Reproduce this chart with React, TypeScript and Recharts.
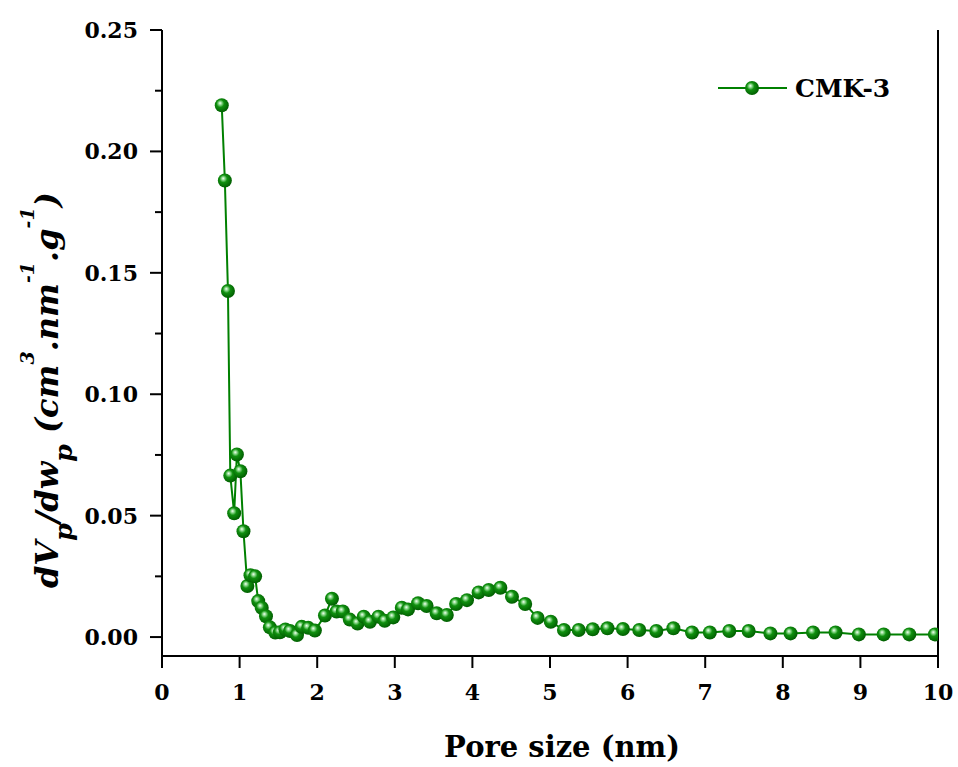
import React from 'react';
import { LineChart, Line, XAxis, YAxis } from 'recharts';

const poreSize = [
  0.77, 0.81, 0.85, 0.88, 0.93, 0.965, 1.01, 1.05, 1.10, 1.14, 1.20, 1.24, 1.285, 1.34, 1.39, 1.46,
  1.52, 1.59, 1.65, 1.74, 1.80, 1.885, 1.97, 2.10, 2.19, 2.25, 2.33, 2.42, 2.52, 2.60, 2.68, 2.79,
  2.87, 2.98, 3.09, 3.17, 3.30, 3.41, 3.54, 3.67, 3.79, 3.93, 4.08, 4.21, 4.36, 4.51, 4.68, 4.84,
  5.01, 5.18, 5.37, 5.55, 5.74, 5.94, 6.15, 6.37, 6.59, 6.83, 7.06, 7.31, 7.56, 7.84, 8.10, 8.39,
  8.68, 8.98, 9.30, 9.63, 9.96,
];
const cmk3 = [
  0.219, 0.188, 0.1425, 0.0665, 0.051, 0.0752, 0.0683, 0.0436, 0.021, 0.0255, 0.025, 0.0148, 0.0121, 0.0086, 0.004, 0.0019,
  0.002, 0.0031, 0.0025, 0.0008, 0.0042, 0.0038, 0.0027, 0.0089, 0.0158, 0.0105, 0.0105, 0.0072, 0.0056, 0.0084, 0.0063, 0.0084,
  0.0067, 0.0081, 0.0121, 0.0114, 0.0139, 0.0128, 0.0098, 0.0091, 0.0136, 0.0152, 0.0184, 0.0194, 0.0203, 0.0166, 0.0136, 0.0079,
  0.0063, 0.0029, 0.0029, 0.0032, 0.0036, 0.0033, 0.0029, 0.0025, 0.0036, 0.0019, 0.0019, 0.0025, 0.0025, 0.0015, 0.0015, 0.0019,
  0.0019, 0.0011, 0.0011, 0.0011, 0.0011,
];
const xTicks = [0, 1, 2, 3, 4, 5, 6, 7, 8, 9, 10];
const yMajorTicks = [0, 0.05, 0.1, 0.15, 0.2, 0.25];
const yMinorTicks = [0.025, 0.075, 0.125, 0.175, 0.225];
const seriesName = 'CMK-3';
const xTitle = 'Pore size (nm)';

const data = poreSize.map((x, i) => ({ x, y: cmk3[i] }));

const FONT = 'DejaVu Serif';
const GREEN = '#008000';

const YTick = (props: any) => {
  const { x, y, payload } = props;
  const v = payload.value;
  const major = yMajorTicks.some((t) => Math.abs(t - v) < 1e-9);
  return (
    <g>
      <line x1={x - (major ? 12 : 7)} x2={x} y1={y} y2={y} stroke="#000" strokeWidth={2} />
      {major && (
        <text x={x - 24} y={y} dy={8} textAnchor="end" fontFamily={FONT} fontWeight="bold" fontSize={22} fill="#000">
          {v.toFixed(2)}
        </text>
      )}
    </g>
  );
};

const XTick = (props: any) => {
  const { x, y, payload } = props;
  return (
    <g>
      <line x1={x} x2={x} y1={y} y2={y + 12} stroke="#000" strokeWidth={2} />
      <text x={x} y={y + 44} textAnchor="middle" fontFamily={FONT} fontWeight="bold" fontSize={22} fill="#000">
        {payload.value}
      </text>
    </g>
  );
};

const Ball = (props: any) => {
  const { cx, cy, index } = props;
  if (cx == null || cy == null) return null;
  return <circle key={`b${index}`} cx={cx} cy={cy} r={7} fill="url(#ballGrad)" />;
};

const YLabel = () => (
  <text
    transform="translate(58, 588) rotate(-90)"
    fontFamily={FONT}
    fontWeight="bold"
    fontStyle="italic"
    fontSize={32}
    fill="#000"
  >
    <tspan>dV</tspan>
    <tspan dy={14} fontSize={25}>p</tspan>
    <tspan dy={-14}>/dw</tspan>
    <tspan dy={14} fontSize={25}>p</tspan>
    <tspan dy={-14}> (cm</tspan>
    <tspan dy={-24} fontSize={19}>3</tspan>
    <tspan dy={24}>.nm</tspan>
    <tspan dy={-24} fontSize={19}>-1</tspan>
    <tspan dy={24}>.g</tspan>
    <tspan dy={-24} fontSize={19}>-1</tspan>
    <tspan dy={24}>)</tspan>
  </text>
);

const XLabel = () => (
  <text x={562} y={757} textAnchor="middle" fontFamily={FONT} fontWeight="bold" fontSize={29} fill="#000">
    {xTitle}
  </text>
);

const BallGradient = ({ id }: { id: string }) => (
  <radialGradient id={id} cx="0.42" cy="0.42" r="0.6" fx="0.38" fy="0.34">
    <stop offset="0" stopColor="#f4fff4" />
    <stop offset="0.2" stopColor="#8ad88a" />
    <stop offset="0.45" stopColor="#10900f" />
    <stop offset="1" stopColor="#005c00" />
  </radialGradient>
);

const LegendBox = () => (
  <svg width={200} height={40} style={{ position: 'absolute', left: 715, top: 70, overflow: 'visible' }}>
    <defs>
      <BallGradient id="ballGradL" />
    </defs>
    <line x1={3} x2={72} y1={18} y2={18} stroke={GREEN} strokeWidth={2} />
    <circle cx={37} cy={18} r={7} fill="url(#ballGradL)" />
    <text x={80} y={27} fontFamily={FONT} fontWeight="bold" fontSize={25} fill="#000">
      {seriesName}
    </text>
  </svg>
);

export default function App() {
  return (
    <div style={{ position: 'absolute', left: 0, top: 0, width: 958, height: 767, background: '#fff' }}>
      <LineChart width={958} height={767} data={data} margin={{ top: 30, right: 0, left: 0, bottom: 0 }}>
        <defs>
          <BallGradient id="ballGrad" />
        </defs>
        <XAxis
          dataKey="x"
          type="number"
          domain={[0, 10]}
          ticks={xTicks}
          allowDataOverflow
          height={111}
          axisLine={{ stroke: '#000', strokeWidth: 2 }}
          tickLine={false}
          tickSize={0}
          tickMargin={0}
          tick={<XTick />}
          interval={0}
          label={<XLabel />}
        />
        <XAxis
          xAxisId="top"
          orientation="top"
          dataKey="x"
          type="number"
          domain={[0, 10]}
          height={0}
          tick={false}
          tickLine={false}
          axisLine={{ stroke: '#000', strokeWidth: 2 }}
        />
        <YAxis
          type="number"
          domain={[-0.0078, 0.25]}
          ticks={[...yMajorTicks, ...yMinorTicks]}
          allowDataOverflow
          width={162}
          axisLine={{ stroke: '#000', strokeWidth: 2 }}
          tickLine={false}
          tickSize={0}
          tickMargin={0}
          tick={<YTick />}
          interval={0}
          label={<YLabel />}
        />
        <YAxis
          yAxisId="right"
          orientation="right"
          type="number"
          domain={[-0.0078, 0.25]}
          width={20}
          tick={false}
          tickLine={false}
          axisLine={{ stroke: '#000', strokeWidth: 2 }}
        />
        <Line
          type="linear"
          dataKey="y"
          name={seriesName}
          stroke={GREEN}
          strokeWidth={2}
          dot={<Ball />}
          activeDot={false}
          isAnimationActive={false}
        />
      </LineChart>
      <LegendBox />
    </div>
  );
}
